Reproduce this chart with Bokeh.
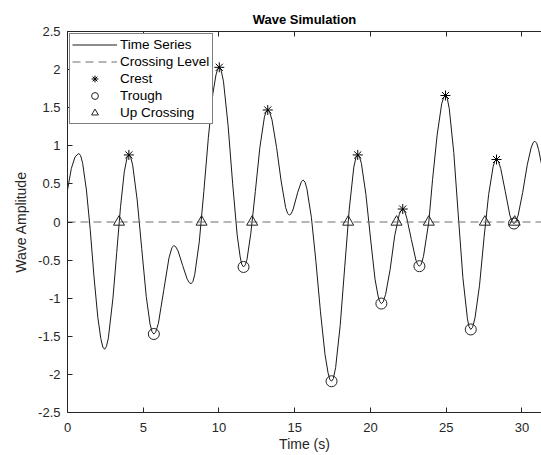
from bokeh.plotting import figure
from bokeh.models import LinearAxis, FixedTicker, Range1d, Legend, LegendItem
from bokeh.embed import file_html
from bokeh.resources import INLINE

# ---- data ----
time_s = [0.0, 0.25, 0.5, 0.63, 0.75, 0.87, 1.0, 1.25, 1.5, 1.75, 2.0, 2.2, 2.33, 2.45,
          2.57, 2.7, 3.0, 3.25, 3.5, 3.75, 3.93, 4.05,
          4.17, 4.3, 4.6, 4.9, 5.2, 5.45, 5.58, 5.70,
          5.82, 6.0, 6.35, 6.7, 6.90, 7.02,
          7.14, 7.3, 7.6, 7.9, 8.04, 8.16,
          8.28, 8.4, 8.7, 9.0, 9.3, 9.6, 9.8, 9.90, 10.02,
          10.14, 10.3, 10.6, 10.9, 11.2, 11.4, 11.50, 11.62,
          11.74, 11.85, 12.1, 12.4, 12.7, 13.0, 13.10, 13.22,
          13.34, 13.5, 13.8, 14.1, 14.4, 14.53, 14.65,
          14.77, 14.9, 15.2, 15.44, 15.56,
          15.68, 15.8, 16.1, 16.4, 16.7, 17.0, 17.2, 17.31, 17.43,
          17.55, 17.7, 18.0, 18.3, 18.6, 18.9, 19.04, 19.16,
          19.28, 19.4, 19.7, 20.0, 20.3, 20.5, 20.60, 20.72,
          20.84, 21.0, 21.3, 21.6, 21.9, 22.01, 22.13,
          22.25, 22.4, 22.7, 23.0, 23.11, 23.23,
          23.35, 23.5, 23.85, 24.1, 24.4, 24.7, 24.83, 24.95,
          25.07, 25.2, 25.5, 25.8, 26.1, 26.4, 26.50, 26.62,
          26.74, 26.9, 27.2, 27.5, 27.8, 28.1, 28.20, 28.32,
          28.44, 28.6, 28.9, 29.2, 29.35, 29.47,
          29.59, 29.75, 30.05, 30.35, 30.6, 30.73, 30.85,
          30.97, 31.1, 31.35, 31.6]
amplitude = [0.42, 0.70, 0.855, 0.88, 0.90, 0.87, 0.77, 0.42, -0.10, -0.72, -1.25, -1.53, -1.64, -1.67,
             -1.635, -1.52, -1.00, -0.40, 0.20, 0.66, 0.845, 0.88,
             0.85, 0.75, 0.29, -0.35, -0.98, -1.34, -1.44, -1.47,
             -1.447, -1.33, -0.90, -0.47, -0.333, -0.31,
             -0.324, -0.38, -0.57, -0.75, -0.796, -0.81,
             -0.78, -0.69, -0.26, 0.40, 1.11, 1.69, 1.93, 2.00, 2.03,
             1.994, 1.84, 1.27, 0.51, -0.17, -0.46, -0.554, -0.59,
             -0.562, -0.49, -0.15, 0.40, 0.98, 1.38, 1.44, 1.47,
             1.446, 1.34, 0.98, 0.54, 0.19, 0.114, 0.09,
             0.109, 0.17, 0.39, 0.531, 0.55,
             0.523, 0.44, 0.06, -0.52, -1.18, -1.74, -1.98, -2.063, -2.09,
             -2.055, -1.91, -1.36, -0.59, 0.17, 0.72, 0.845, 0.88,
             0.852, 0.77, 0.36, -0.21, -0.75, -0.97, -1.042, -1.07,
             -1.048, -0.95, -0.62, -0.18, 0.10, 0.148, 0.17,
             0.148, 0.05, -0.23, -0.50, -0.558, -0.58,
             -0.554, -0.45, 0.00, 0.56, 1.14, 1.55, 1.634, 1.66,
             1.621, 1.49, 0.91, 0.08, -0.73, -1.27, -1.371, -1.41,
             -1.383, -1.26, -0.83, -0.20, 0.36, 0.73, 0.793, 0.82,
             0.798, 0.70, 0.40, 0.09, 0.002, -0.02,
             0.00, 0.09, 0.39, 0.75, 0.97, 1.04, 1.06,
             1.035, 0.95, 0.70, 0.35]

crest_t = [4.05, 10.02, 13.22, 19.16, 22.13, 24.95, 28.32]
crest_y = [0.88, 2.03, 1.47, 0.88, 0.17, 1.66, 0.82]
trough_t = [5.70, 11.62, 17.43, 20.72, 23.23, 26.62, 29.47]
trough_y = [-1.47, -0.59, -2.09, -1.07, -0.58, -1.41, -0.02]
upcross_t = [3.40, 8.85, 12.19, 18.53, 21.72, 23.85, 27.55, 29.52]
upcross_y = [0, 0, 0, 0, 0, 0, 0, 0]
crossing_level = 0.0

x_ticks = [0, 5, 10, 15, 20, 25, 30]
y_ticks = [-2.5, -2, -1.5, -1, -0.5, 0, 0.5, 1, 1.5, 2, 2.5]
y_tick_labels = ["-2.5", "-2", "-1.5", "-1", "-0.5", "0", "0.5", "1", "1.5", "2", "2.5"]

X_END = 31.29
FONT = "Liberation Sans"
AXC = "#262626"

p = figure(width=541, height=455, output_backend="svg", toolbar_location=None,
           x_range=Range1d(0, X_END), y_range=Range1d(-2.5, 2.5),
           min_border_left=67, min_border_right=0, min_border_top=31, min_border_bottom=43,
           background_fill_color="white", border_fill_color="white")
p.grid.visible = False
p.outline_line_color = None

p.title.text = "Wave Simulation"
p.title.text_font = FONT
p.title.text_font_style = "bold"
p.title.text_font_size = "13px"
p.title.align = "center"
p.title.text_color = "black"

def style_axis(ax):
    ax.ticker = FixedTicker(ticks=x_ticks)
    ax.axis_line_color = AXC
    ax.axis_line_width = 1
    ax.major_tick_in = 5
    ax.major_tick_out = 0
    ax.major_tick_line_color = AXC
    ax.minor_tick_line_color = None
    ax.major_label_text_font = FONT
    ax.major_label_text_color = AXC
    ax.major_label_text_font_size = "13px"
    ax.axis_label_text_font = FONT
    ax.axis_label_text_color = AXC
    ax.axis_label_text_font_style = "normal"
    ax.axis_label_text_font_size = "14px"

xa = p.xaxis[0]
style_axis(xa)
xa.axis_label = "Time (s)"
xa.major_label_standoff = 10
xa.axis_label_standoff = 1

ya = p.yaxis[0]
style_axis(ya)
ya.ticker = FixedTicker(ticks=y_ticks)
ya.major_label_overrides = {t: s for t, s in zip(y_ticks, y_tick_labels)}
ya.axis_label = "Wave Amplitude"
ya.major_label_standoff = 7
ya.axis_label_standoff = 6

top = LinearAxis()
style_axis(top)
top.major_label_overrides = {t: "" for t in x_ticks}
top.major_label_standoff = 0
p.add_layout(top, "above")

r_line = p.line(time_s, amplitude, line_color="#1a1a1a", line_width=1)
r_cross = p.line([0, X_END], [crossing_level, crossing_level], line_color="#6e6e6e",
                 line_width=1.2, line_dash="8 5")
r_crest = p.scatter(crest_t, crest_y, marker="asterisk", size=10, line_color="black",
                    line_width=1)
r_trough = p.scatter(trough_t, trough_y, marker="circle", size=11, line_color="#222222",
                     fill_color=None, line_width=1)
r_up = p.scatter(upcross_t, upcross_y, marker="triangle", size=11, line_color="#222222",
                 fill_color=None, line_width=1)

legend = Legend(items=[
    LegendItem(label="Time Series", renderers=[r_line]),
    LegendItem(label="Crossing Level", renderers=[r_cross]),
    LegendItem(label="Crest", renderers=[r_crest]),
    LegendItem(label="Trough", renderers=[r_trough]),
    LegendItem(label="Up Crossing", renderers=[r_up]),
], location="top_left")
legend.label_text_font = FONT
legend.label_text_font_size = "13.5px"
legend.label_text_color = "black"
legend.glyph_width = 45
legend.glyph_height = 17
legend.label_height = 17
legend.label_width = 90
legend.label_standoff = 3
legend.spacing = 0
legend.padding = 2
legend.margin = 2
legend.border_line_color = "black"
legend.border_line_width = 1
legend.background_fill_color = "white"
legend.background_fill_alpha = 1
p.add_layout(legend, "center")

open("out.html", "w").write(file_html(p, INLINE))
